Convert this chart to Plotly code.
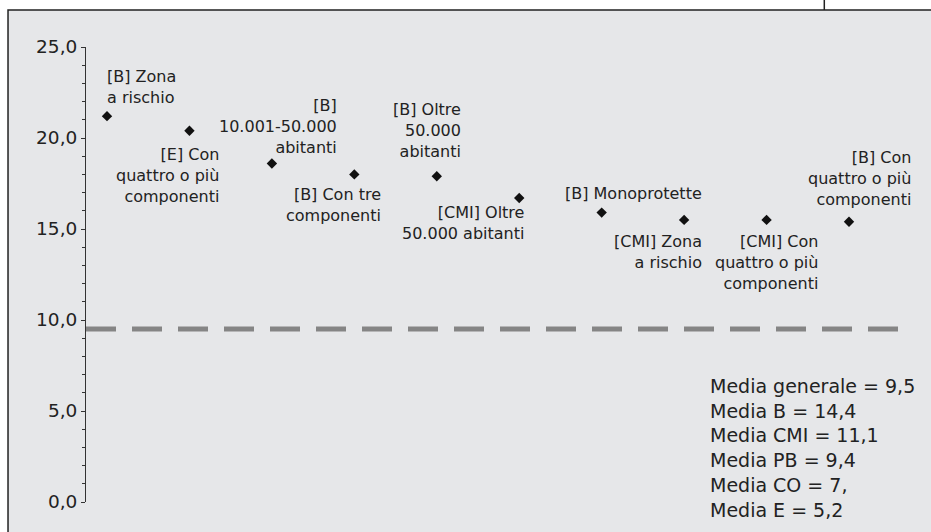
import plotly.graph_objects as go

# ---- data ----
categories = [
    "[B] Zona<br>a rischio",
    "[E] Con<br>quattro o più<br>componenti",
    "[B]<br>10.001-50.000<br>abitanti",
    "[B] Con tre<br>componenti",
    "[B] Oltre<br>50.000<br>abitanti",
    "[CMI] Oltre<br>50.000 abitanti",
    "[B] Monoprotette",
    "[CMI] Zona<br>a rischio",
    "[CMI] Con<br>quattro o più<br>componenti",
    "[B] Con<br>quattro o più<br>componenti",
]
values = [21.2, 20.4, 18.6, 18.0, 17.9, 16.7, 15.9, 15.5, 15.5, 15.4]
media_generale = 9.5
medie_labels = ["Media generale", "Media B", "Media CMI", "Media PB", "Media CO", "Media E"]
medie_text = ["9,5", "14,4", "11,1", "9,4", "7,", "5,2"]
y_ticks = [0, 5, 10, 15, 20, 25]

# ---- label placement (pixels relative to the marker) ----
label_pos = [
    dict(xanchor="left", yanchor="bottom", xshift=-2, yshift=7, align="left"),
    dict(xanchor="right", yanchor="top", xshift=32, yshift=-12, align="right"),
    dict(xanchor="right", yanchor="bottom", xshift=67, yshift=4, align="right"),
    dict(xanchor="right", yanchor="top", xshift=29, yshift=-9, align="right"),
    dict(xanchor="right", yanchor="bottom", xshift=26, yshift=13, align="right"),
    dict(xanchor="right", yanchor="top", xshift=7, yshift=-3, align="right"),
    dict(xanchor="right", yanchor="bottom", xshift=102, yshift=8, align="right"),
    dict(xanchor="right", yanchor="top", xshift=20, yshift=-10, align="right"),
    dict(xanchor="right", yanchor="top", xshift=53, yshift=-10, align="right"),
    dict(xanchor="right", yanchor="bottom", xshift=64, yshift=11, align="right"),
]

FONT = "DejaVu Sans"
TXT = "#222222"
xs = list(range(1, len(values) + 1))

fig = go.Figure()
fig.add_trace(go.Scatter(
    x=xs, y=values, mode="markers",
    marker=dict(symbol="diamond", size=8, color="#111111"),
    hoverinfo="skip", showlegend=False,
))

annotations = []
for x, y, t, p in zip(xs, values, categories, label_pos):
    annotations.append(dict(x=x, y=y, xref="x", yref="y", text=t, showarrow=False,
                            font=dict(family=FONT, size=16, color=TXT), **p))

annotations.append(dict(
    x=0.764, y=0.2835, xref="paper", yref="paper", xanchor="left", yanchor="top",
    align="left", showarrow=False,
    text="<br>".join(f"{l} = {v}" for l, v in zip(medie_labels, medie_text)),
    font=dict(family=FONT, size=19, color=TXT),
))

shapes = [
    # grey framed panel
    dict(type="rect", xref="paper", yref="paper", x0=-0.0958, x1=1.06, y0=-0.1, y1=1.0813,
         fillcolor="#e6e7e9", line=dict(color="#222222", width=1.5), layer="below"),
    # small mark above the frame
    dict(type="line", xref="paper", yref="paper", x0=0.907, x1=0.907, y0=1.0813, y1=1.12,
         line=dict(color="#222222", width=1.5)),
    # general mean dashed line
    dict(type="line", xref="paper", yref="y", x0=0, x1=1, y0=media_generale, y1=media_generale,
         line=dict(color="#858585", width=5, dash="30px,16px")),
]

fig.update_layout(
    width=931, height=532,
    margin=dict(l=86, r=31, t=47, b=30),
    paper_bgcolor="white", plot_bgcolor="rgba(0,0,0,0)",
    separators=", ",
    showlegend=False,
    annotations=annotations,
    shapes=shapes,
    xaxis=dict(range=[0.7453, 10.6186], visible=False, showgrid=False, zeroline=False),
    yaxis=dict(
        range=[0, 25], tickvals=y_ticks, tickformat=".1f",
        showline=True, linecolor="#333333", linewidth=1,
        ticks="outside", ticklen=4, tickwidth=1, tickcolor="#333333",
        minor=dict(dtick=1, ticks="outside", ticklen=3, tickwidth=1, tickcolor="#333333", showgrid=False),
        showgrid=False, zeroline=False,
        tickfont=dict(family=FONT, size=18.5, color=TXT),
    ),
)

fig.write_html("out.html", config={"displayModeBar": False},
               post_script="document.body.style.margin='0px';")
